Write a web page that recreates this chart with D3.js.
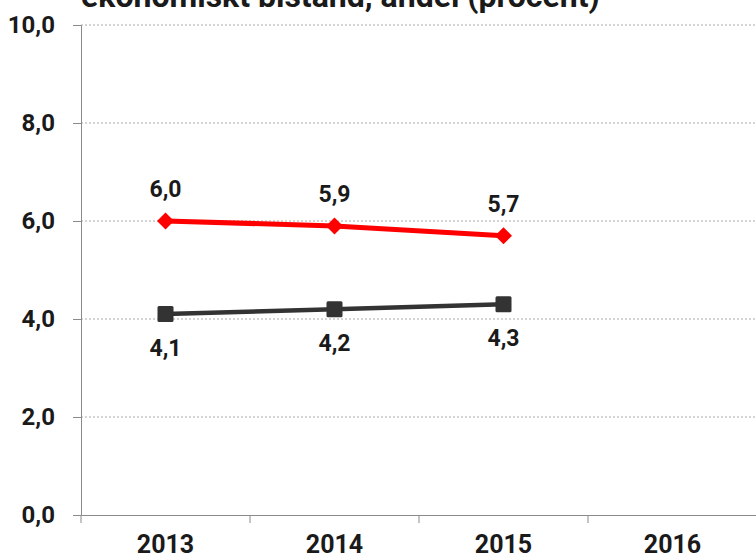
<!DOCTYPE html>
<html><head><meta charset="utf-8">
<script src="https://cdn.jsdelivr.net/npm/d3@7"></script>
<style>body{margin:0;background:#fff}svg{display:block}text{font-family:Roboto,"Noto Sans",sans-serif;font-weight:700;fill:#1a1a1a}</style>
</head><body><svg id="c" width="756" height="560"></svg>
<script>
const title = "ekonomiskt bistånd, andel (procent)";
const years = ["2013","2014","2015","2016"];
const yTicks = [0,2,4,6,8,10];
const redYears = ["2013","2014","2015"];
const redValues = [6.0,5.9,5.7];
const darkYears = ["2013","2014","2015"];
const darkValues = [4.1,4.2,4.3];

(function(){
const svg = d3.select("#c");
const mLeft = 81, mRight = 757, mTop = 25, mBottom = 515;
const x = d3.scaleBand().domain(years).range([mLeft,mRight]);
const y = d3.scaleLinear().domain([0,10]).range([mBottom,mTop]);
const fmt = v => d3.format(".1f")(v).replace(".",",");

// gridlines
svg.append("g").selectAll("line").data(yTicks.filter(d=>d>0)).join("line")
  .attr("x1",mLeft).attr("x2",756).attr("y1",d=>y(d)).attr("y2",d=>y(d))
  .attr("stroke","#aaa").attr("stroke-width",1).attr("stroke-dasharray","2,2");

// y axis
const ya = svg.append("g").attr("transform",`translate(${mLeft},0)`)
  .call(d3.axisLeft(y).tickValues(yTicks).tickSize(8).tickPadding(18).tickFormat(fmt));
ya.select(".domain").attr("stroke","#8a8a8a");
ya.selectAll(".tick line").attr("stroke","#8a8a8a");
ya.selectAll("text").style("font-size","24px").attr("fill","#1a1a1a");

// x axis
const xa = svg.append("g").attr("transform",`translate(0,${mBottom})`)
  .call(d3.axisBottom(x).tickSize(0));
xa.select(".domain").attr("stroke","#8a8a8a");
xa.selectAll("text").style("font-size","25px").attr("fill","#1a1a1a").attr("dy",null).attr("y",38);
xa.selectAll(".tick line").remove();
svg.append("g").selectAll("line").data(years).join("line")
  .attr("x1",d=>x(d)).attr("x2",d=>x(d)).attr("y1",mBottom).attr("y2",mBottom+8)
  .attr("stroke","#8a8a8a");

// title
svg.append("text").attr("x",81).attr("y",7).style("font-size","32px").text(title);

const cx = d => x(d)+x.bandwidth()/2;
const line = d3.line().x(d=>cx(d[0])).y(d=>y(d[1]));

// dark series
const dark = d3.zip(darkYears,darkValues);
svg.append("path").datum(dark).attr("d",line).attr("fill","none").attr("stroke","#333").attr("stroke-width",4.5);
svg.append("g").selectAll("rect").data(dark).join("rect")
  .attr("x",d=>cx(d[0])-8).attr("y",d=>y(d[1])-8).attr("width",16).attr("height",16).attr("rx",1.5)
  .attr("fill","#333");
svg.append("g").selectAll("text").data(dark).join("text")
  .attr("x",d=>cx(d[0])).attr("y",d=>y(d[1])+42).attr("text-anchor","middle")
  .style("font-size","23px").text(d=>fmt(d[1]));

// red series
const red = d3.zip(redYears,redValues);
svg.append("path").datum(red).attr("d",line).attr("fill","none").attr("stroke","#ff0000").attr("stroke-width",5);
svg.append("g").selectAll("path.m").data(red).join("path").attr("class","m")
  .attr("transform",d=>`translate(${cx(d[0])},${y(d[1])})`)
  .attr("d","M0,-8.5L8.5,0L0,8.5L-8.5,0Z").attr("fill","#ff0000");
svg.append("g").selectAll("text").data(red).join("text")
  .attr("x",d=>cx(d[0])).attr("y",d=>y(d[1])-24).attr("text-anchor","middle")
  .style("font-size","23px").text(d=>fmt(d[1]));
})();
</script></body></html>
